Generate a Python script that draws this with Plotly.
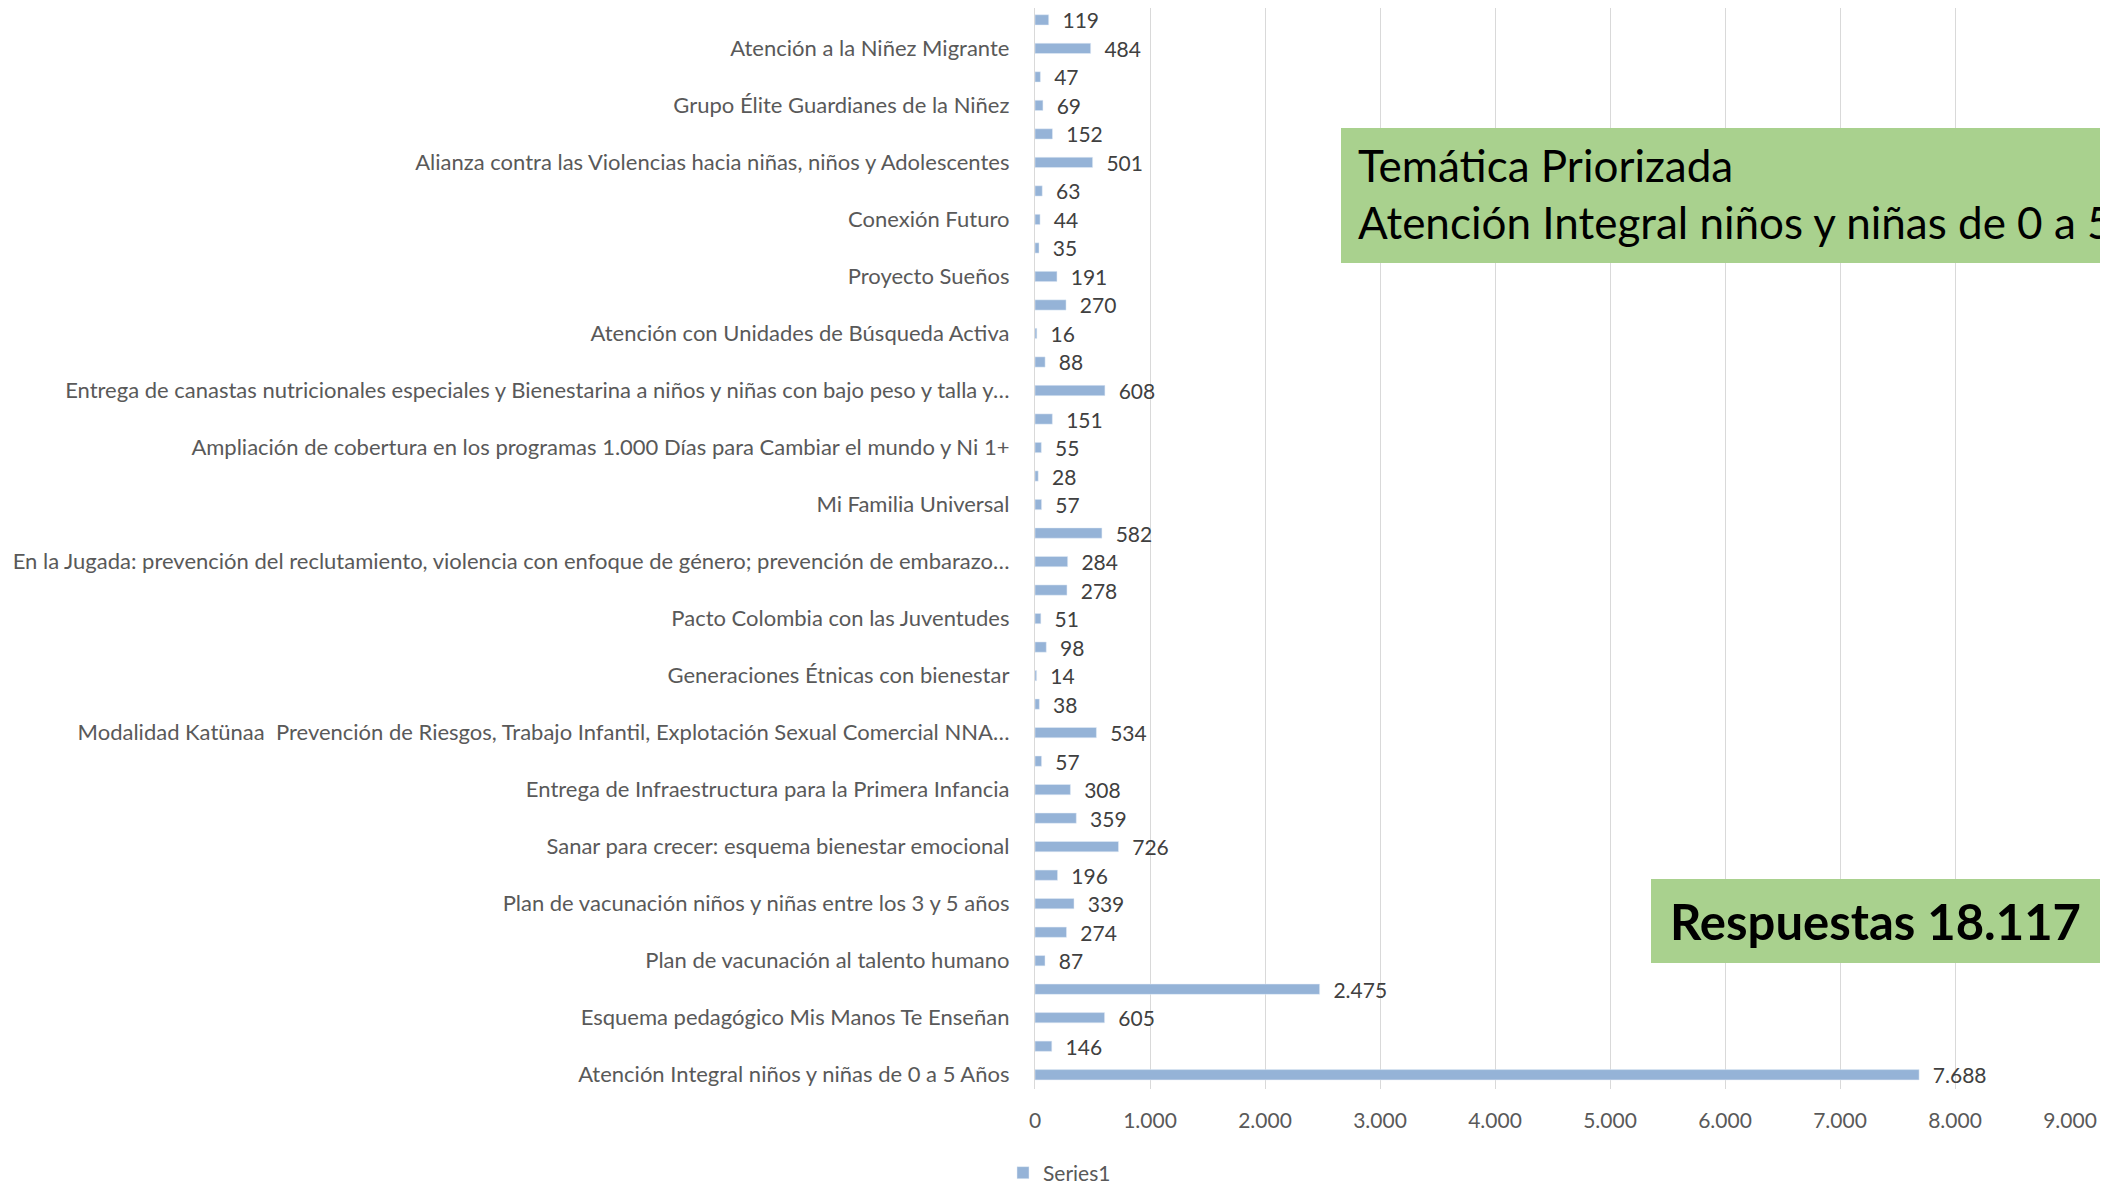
import plotly.graph_objects as go

# values from bottom to top, as drawn
values = [7688, 146, 605, 2475, 87, 274, 339, 196, 726, 359, 308, 57, 534, 38,
          14, 98, 51, 278, 284, 582, 57, 28, 55, 151, 608, 88, 16, 270, 191, 35,
          44, 63, 501, 152, 69, 47, 484, 119]

# only every second category gets a label on the axis
labels = [
    "Atención Integral niños y niñas de 0 a 5 Años",
    "Esquema pedagógico Mis Manos Te Enseñan",
    "Plan de vacunación al talento humano",
    "Plan de vacunación niños y niñas entre los 3 y 5 años",
    "Sanar para crecer: esquema bienestar emocional",
    "Entrega de Infraestructura para la Primera Infancia",
    "Modalidad Katünaa\u00a0 Prevención de Riesgos, Trabajo Infantil, Explotación Sexual Comercial NNA…",
    "Generaciones Étnicas con bienestar",
    "Pacto Colombia con las Juventudes",
    "En la Jugada: prevención del reclutamiento, violencia con enfoque de género; prevención de embarazo…",
    "Mi Familia Universal",
    "Ampliación de cobertura en los programas 1.000 Días para Cambiar el mundo y Ni 1+",
    "Entrega de canastas nutricionales especiales y Bienestarina a niños y niñas con bajo peso y talla y…",
    "Atención con Unidades de Búsqueda Activa",
    "Proyecto Sueños",
    "Conexión Futuro",
    "Alianza contra las Violencias hacia niñas, niños y Adolescentes",
    "Grupo Élite Guardianes de la Niñez",
    "Atención a la Niñez Migrante",
]

x_ticks = [0, 1000, 2000, 3000, 4000, 5000, 6000, 7000, 8000, 9000]

title_box = "Temática Priorizada<br>Atención Integral niños y niñas de 0 a 5 Años"
total_box = "<b>Respuestas 18.117</b>"

positions = list(range(len(values)))

# the page body adds an 8px margin, so the figure is a bit smaller
OFF = 8
W, H = 2108 - OFF, 1184 - OFF
L, R, T, B = 1027, 38, 0, 95
pw, ph = W - L - R, H - T - B
step = 28.51  # px per category
y_top = -0.5 + ph / step


def px(x):
    return (x - OFF - L) / pw


def py(y):
    return (H - B - (y - OFF)) / ph


fig = go.Figure()
fig.add_trace(go.Bar(
    x=values, y=positions, orientation="h", name="Series1",
    marker_color="#95B3D7", width=0.36,
    text=values, texttemplate="  %{x:,}", textposition="outside",
    textfont=dict(size=21, color="#404040", family="Lato"),
    constraintext="none", cliponaxis=False,
))

fig.update_layout(
    width=W, height=H,
    margin=dict(l=L, r=R, t=T, b=B, autoexpand=False),
    plot_bgcolor="white", paper_bgcolor="white",
    separators=",.",
    font=dict(family="Lato", size=21, color="#595959"),
    showlegend=True,
    legend=dict(orientation="h", x=px(1003), y=py(1173), xanchor="left", yanchor="middle",
                font=dict(size=21, color="#595959"), itemwidth=30),
)
fig.update_xaxes(range=[0, 9000], tickvals=x_ticks, tickformat=",",
                 showgrid=True, gridcolor="#D9D9D9", gridwidth=1.3,
                 zeroline=False, showline=False, ticklabelstandoff=17,
                 tickfont=dict(size=21, color="#595959"))
fig.update_yaxes(range=[-0.5, y_top], tickvals=positions[::2], ticktext=labels,
                 showgrid=False, zeroline=False, showline=True, linecolor="#D9D9D9",
                 linewidth=1.3, ticks="", ticklabelstandoff=20,
                 tickfont=dict(size=22, color="#595959"))

# green boxes
fig.add_shape(type="rect", xref="paper", yref="paper", x0=px(1341), x1=px(2130),
              y0=py(263), y1=py(128), fillcolor="#A9D18E", line_width=0, layer="above")
fig.add_annotation(xref="paper", yref="paper", x=px(1356), y=py(194), xanchor="left",
                   yanchor="middle", align="left", showarrow=False, text=title_box,
                   font=dict(size=44, color="black", family="Lato"))
fig.add_shape(type="rect", xref="paper", yref="paper", x0=px(1651), x1=px(2130),
              y0=py(963), y1=py(879), fillcolor="#A9D18E", line_width=0, layer="above")
fig.add_annotation(xref="paper", yref="paper", x=px(1668), y=py(921), xanchor="left",
                   yanchor="middle", showarrow=False, text=total_box,
                   font=dict(size=49, color="black", family="Lato"))

fig.write_html("out.html")
